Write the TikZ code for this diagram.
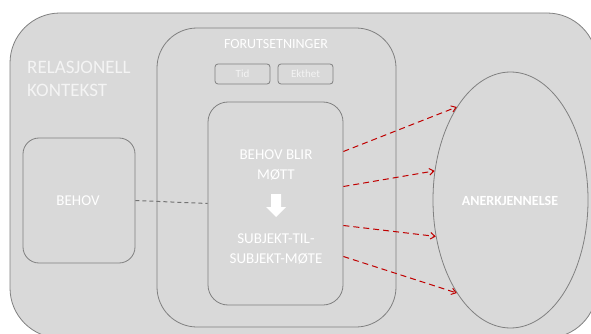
\documentclass[tikz,border=0pt]{standalone}
\usepackage{fontspec}
\setmainfont{Carlito}
\usetikzlibrary{shapes.geometric,arrows.meta}

\definecolor{panelfill}{HTML}{D9D9D9}
\definecolor{panelline}{HTML}{808080}
\definecolor{softwhite}{HTML}{F4F4F4}
\definecolor{linkred}{HTML}{C00000}

\begin{document}
\begin{tikzpicture}[
  x=1pt, y=1pt,
  panel/.style={rectangle, draw=panelline, line width=0.8pt, fill=panelfill,
    inner sep=0pt},
  tag/.style={rectangle, draw=panelline, line width=0.8pt, fill=panelfill,
    rounded corners=3pt, minimum width=55pt, minimum height=20pt,
    inner sep=0pt, text=softwhite, font=\fontsize{11}{13}\selectfont},
  caption/.style={text=white, align=center, inner sep=0pt,
    font=\fontsize{15}{19.5}\selectfont},
  link/.style={draw=gray!90!black, line width=1pt, dash pattern=on 4pt off 3pt},
  reach/.style={-{Straight Barb[length=4.5pt,width=6.5pt]}, draw=linkred,
    line width=1pt, dash pattern=on 6pt off 4pt},
]
\useasboundingbox (0,0) rectangle (591,-334);
\clip (0,0) rectangle (591,-334);

% outer context frame
\node[panel, rounded corners=50pt, minimum width=587pt, minimum height=325pt]
  (kontekst) at (303.5,-175.5) {};
\node[caption, text=softwhite, align=left, anchor=west,
  font=\fontsize{19}{23}\selectfont] (kontekstlbl) at (27,-79)
  {RELASJONELL\\KONTEKST};

% need box on the left
\node[panel, rounded corners=16pt, minimum width=112pt, minimum height=125pt]
  (behov) at (79,-200.5) {};
\node[caption] (behovlbl) at (78,-201) {BEHOV};

% preconditions
\node[panel, rounded corners=40pt, minimum width=239pt, minimum height=299pt]
  (forut) at (276.5,-177.5) {};
\node[caption, font=\fontsize{14}{17}\selectfont] (forutlbl) at (276,-44)
  {FORUTSETNINGER};
\node[tag] (tid) at (242.5,-74) {Tid};
\node[tag] (ekthet) at (305.5,-74) {Ekthet};

% met need -> subject-subject meeting
\node[panel, rounded corners=20pt, minimum width=135pt, minimum height=203pt]
  (mott) at (275.5,-203.5) {};
\node[caption] (mottlbl) at (276,-165) {BEHOV BLIR\\MØTT};
\node[caption] (motelbl) at (276,-249) {SUBJEKT-TIL-\\SUBJEKT-MØTE};
\fill[white] (271,-194) -- (281,-194) -- (281,-207) -- (286,-207)
  -- (276,-217) -- (266,-207) -- (271,-207) -- cycle;

% recognition
\node[ellipse, draw=panelline, line width=0.8pt, fill=panelfill,
  minimum width=155pt, minimum height=256pt, inner sep=0pt]
  (aner) at (510.5,-200) {};
\node[caption, font=\fontsize{14}{17}\selectfont\bfseries] (anerlbl)
  at (510,-201) {ANERKJENNELSE};

\draw[link] (behov.east) -- (mott.west);

\coordinate (m1) at ([yshift=52pt]mott.east);
\coordinate (m2) at ([yshift=17pt]mott.east);
\coordinate (m3) at ([yshift=-22pt]mott.east);
\coordinate (m4) at ([yshift=-53pt]mott.east);
\draw[reach] (m1) -- (aner.120);
\draw[reach] (m2) -- (aner.159);
\draw[reach] (m3) -- (aner.206);
\draw[reach] (m4) -- (aner.240);

\end{tikzpicture}
\end{document}
